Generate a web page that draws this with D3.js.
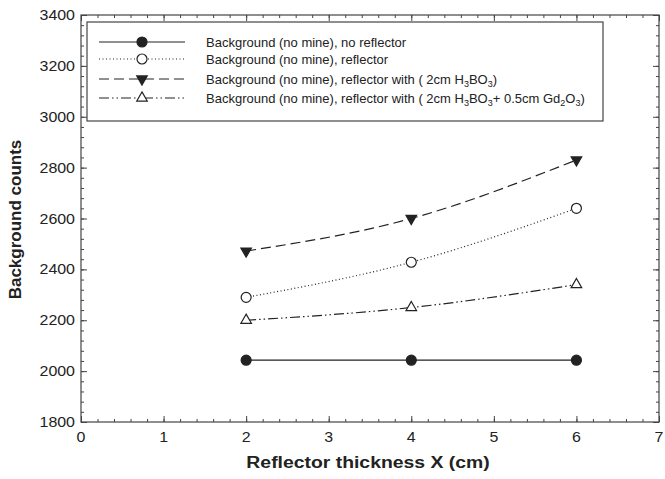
<!DOCTYPE html>
<html>
<head>
<meta charset="utf-8">
<script src="https://cdn.jsdelivr.net/npm/d3@7"></script>
<style>
  body { margin: 0; background: #fff; }
  text { font-family: "Liberation Sans", Arial, sans-serif; fill: #222; }
</style>
</head>
<body>
<script>
// data
const thickness = [2, 4, 6];
const noReflector = [2043, 2043, 2043];
const reflector = [2290, 2428, 2640];
const withH3BO3 = [2472, 2600, 2830];
const withH3BO3Gd2O3 = [2200, 2250, 2340];
const xTicks = [0, 1, 2, 3, 4, 5, 6, 7];
const yTicks = [1800, 2000, 2200, 2400, 2600, 2800, 3000, 3200, 3400];

const margin = {top: 15, right: 6, bottom: 57, left: 81};
const width = 665 - margin.left - margin.right,
      height = 479 - margin.top - margin.bottom;

// the original is a little wide, so horizontal text gets stretched
const stretch = 1.14;

const svg = d3.select("body").append("svg")
  .attr("width", 665)
  .attr("height", 479);

const g = svg.append("g")
  .attr("transform", "translate(" + margin.left + "," + margin.top + ")");

const x = d3.scaleLinear().domain([0, 7]).range([0, width]);
const y = d3.scaleLinear().domain([1800, 3400]).range([height, 0]);

const ink = "#222";

function wideText(parent, px, py, sx) {
  return parent.append("text")
    .attr("transform", "translate(" + px + "," + py + ") scale(" + (sx || stretch) + ",1)");
}

// frame
g.append("rect")
  .attr("width", width).attr("height", height)
  .attr("fill", "none").attr("stroke", "#444").attr("stroke-width", 1.2);

// minor + major ticks, pointing inward on all four sides
const xMinor = d3.range(0, 7.001, 0.2);
const yMinor = d3.range(1800, 3400.1, 40);

function ticksOn(axisFn, scale, vals, size, tr) {
  g.append("g").attr("transform", tr)
    .call(axisFn(scale).tickValues(vals).tickSize(size).tickFormat(""))
    .call(a => a.select(".domain").remove())
    .call(a => a.selectAll("line").attr("stroke", "#444"));
}
ticksOn(d3.axisTop, x, xMinor, 3, "translate(0," + height + ")");
ticksOn(d3.axisTop, x, xTicks, 6, "translate(0," + height + ")");
ticksOn(d3.axisBottom, x, xMinor, 3, "translate(0,0)");
ticksOn(d3.axisBottom, x, xTicks, 6, "translate(0,0)");
ticksOn(d3.axisRight, y, yMinor, 3, "translate(0,0)");
ticksOn(d3.axisRight, y, yTicks, 6, "translate(0,0)");
ticksOn(d3.axisLeft, y, yMinor, 3, "translate(" + width + ",0)");
ticksOn(d3.axisLeft, y, yTicks, 6, "translate(" + width + ",0)");

// tick labels
xTicks.forEach(d => {
  wideText(g, x(d), height + 20)
    .attr("text-anchor", "middle").style("font-size", "14px")
    .text(d);
});

yTicks.forEach(d => {
  wideText(g, -6, y(d))
    .attr("dy", "0.36em")
    .attr("text-anchor", "end").style("font-size", "14px")
    .text(d);
});

// axis titles
wideText(svg, margin.left + width / 2 - 2, 468)
  .attr("text-anchor", "middle")
  .style("font-size", "17px").style("font-weight", "bold")
  .text("Reflector thickness X (cm)");

svg.append("text")
  .attr("transform", "translate(21," + (margin.top + height / 2 + 1) + ") rotate(-90)")
  .attr("text-anchor", "middle")
  .style("font-size", "17px").style("font-weight", "bold")
  .text("Background counts");

// series
const series = [
  {vals: noReflector, dash: null, marker: "circle", fill: ink},
  {vals: reflector, dash: "1,2.5", marker: "circle", fill: "#fff"},
  {vals: withH3BO3, dash: "10,5", marker: "down", fill: ink},
  {vals: withH3BO3Gd2O3, dash: "10,3,1.5,3,1.5,3", marker: "up", fill: "#fff"}
];

const line = d3.line()
  .x((d, i) => x(thickness[i]))
  .y(d => y(d))
  .curve(d3.curveNatural);

function marker(sel, type, fill) {
  if (type === "circle") {
    sel.append("circle").attr("r", 5)
      .attr("fill", fill).attr("stroke", ink).attr("stroke-width", 1.2);
  } else {
    const sym = d3.symbol().type(d3.symbolTriangle).size(48);
    sel.append("path").attr("d", sym)
      .attr("transform", type === "down" ? "rotate(180)" : null)
      .attr("fill", fill).attr("stroke", ink).attr("stroke-width", 1.2);
  }
}

series.forEach(s => {
  g.append("path")
    .datum(s.vals)
    .attr("d", line)
    .attr("fill", "none")
    .attr("stroke", ink)
    .attr("stroke-width", 1.2)
    .attr("stroke-dasharray", s.dash);

  s.vals.forEach((v, i) => {
    const m = g.append("g")
      .attr("transform", "translate(" + x(thickness[i]) + "," + y(v) + ")");
    marker(m, s.marker, s.fill);
  });
});

// legend
const legend = svg.append("g");
legend.append("rect")
  .attr("x", 87).attr("y", 22).attr("width", 516).attr("height", 99)
  .attr("fill", "#fff").attr("stroke", "#444").attr("stroke-width", 1.2);

const legendRows = [42, 59, 79, 98];
const legendText = [
  [["Background (no mine), no reflector", false]],
  [["Background (no mine), reflector", false]],
  [["Background (no mine), reflector with ( 2cm H", false], ["3", true], ["BO", false], ["3", true], [")", false]],
  [["Background (no mine), reflector with ( 2cm H", false], ["3", true], ["BO", false], ["3", true],
   ["+ 0.5cm Gd", false], ["2", true], ["O", false], ["3", true], [")", false]]
];

series.forEach((s, i) => {
  const ry = legendRows[i];
  legend.append("line")
    .attr("x1", 99).attr("x2", 185).attr("y1", ry).attr("y2", ry)
    .attr("stroke", ink).attr("stroke-width", 1.2)
    .attr("stroke-dasharray", s.dash);
  const m = legend.append("g").attr("transform", "translate(142," + ry + ")");
  marker(m, s.marker, s.fill);

  const t = wideText(legend, 206, ry + 5, 1).style("font-size", "13px");
  let shift = 0;
  legendText[i].forEach(part => {
    const want = part[1] ? 3 : 0;
    t.append("tspan")
      .attr("dy", want - shift)
      .style("font-size", part[1] ? "9px" : null)
      .text(part[0]);
    shift = want;
  });
});
</script>
</body>
</html>
